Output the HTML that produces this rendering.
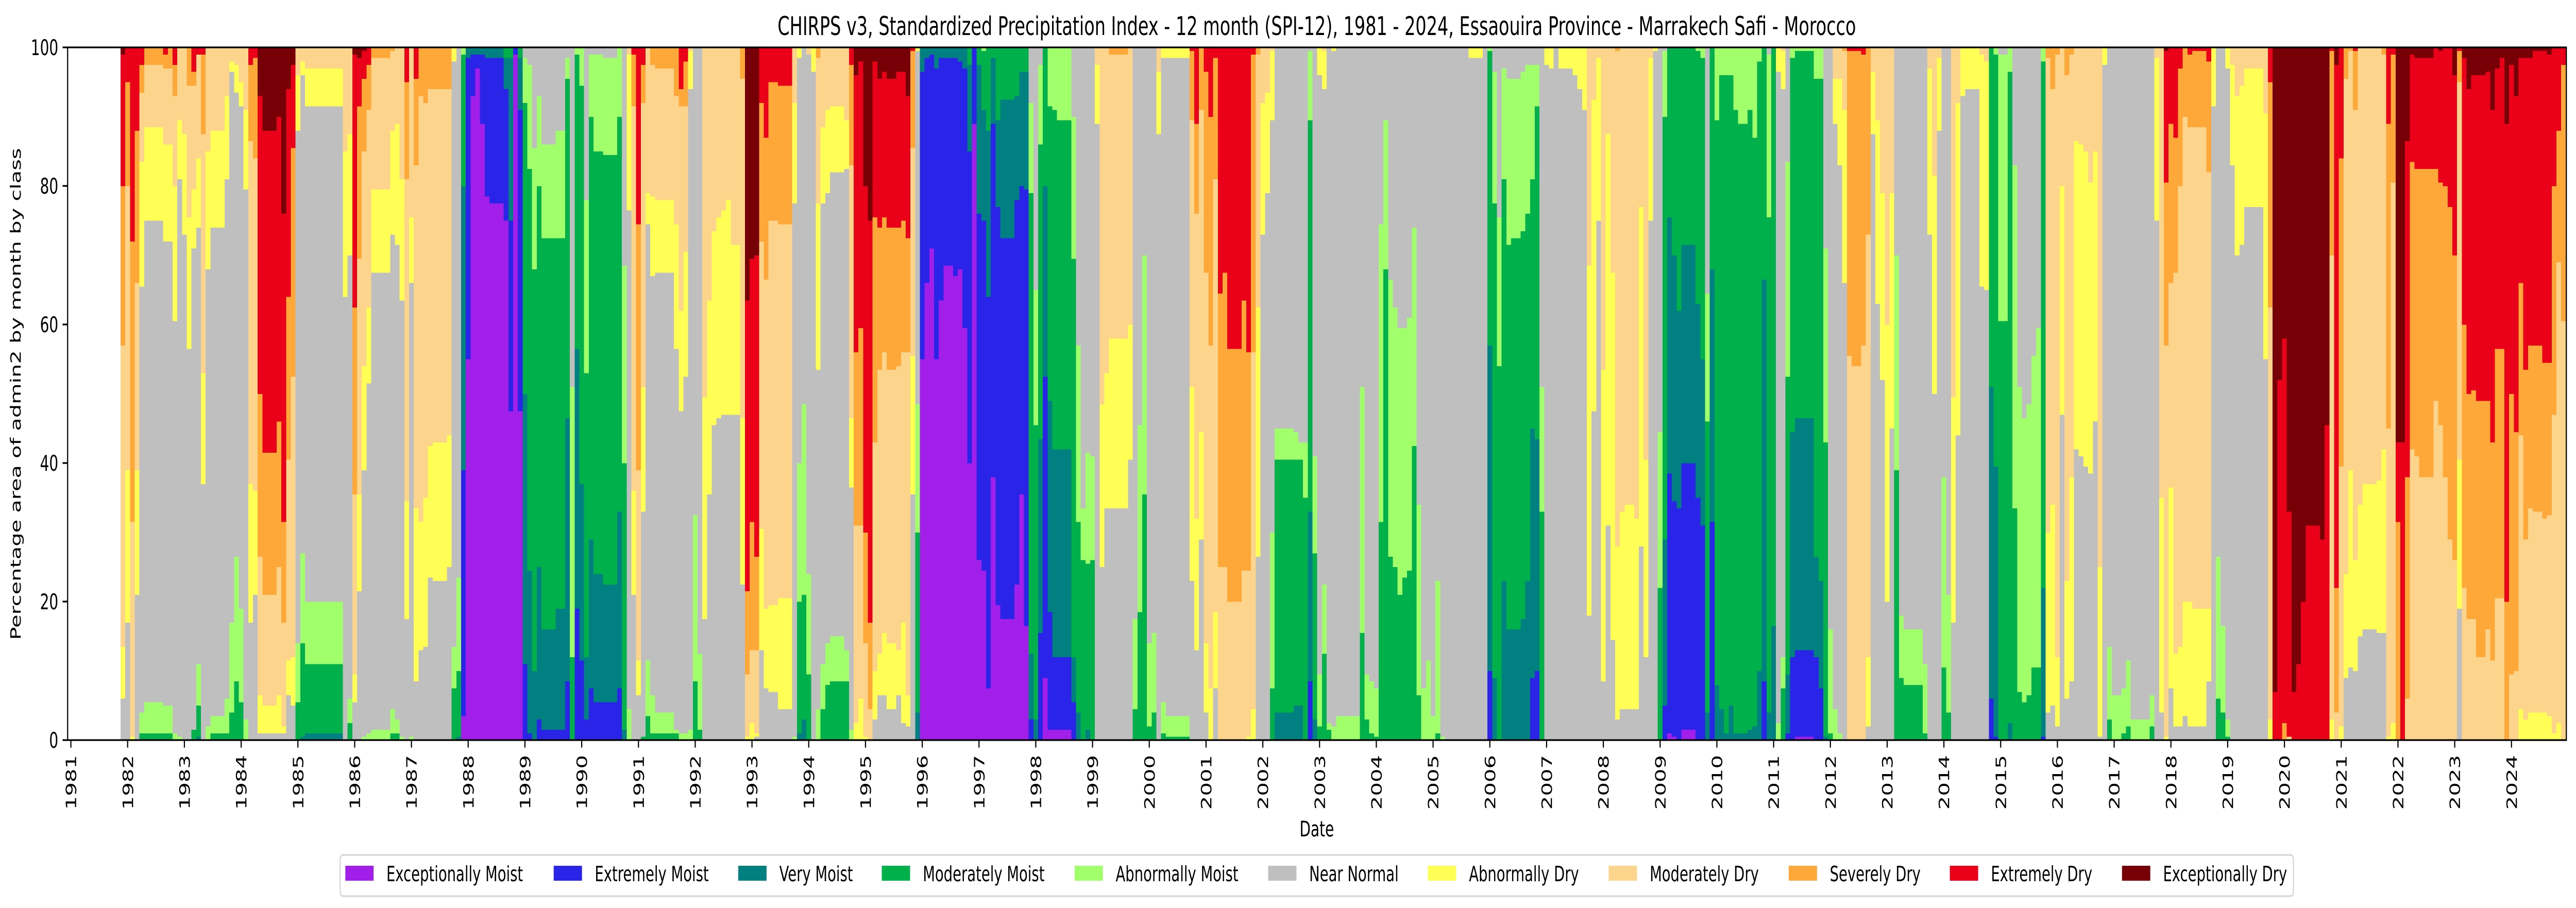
<!DOCTYPE html>
<html><head><meta charset="utf-8"><title>CHIRPS SPI-12 Essaouira</title>
<style>html,body{margin:0;padding:0;background:#fff;overflow:hidden;width:100%;height:100%}svg{display:block;width:100vw;height:100vh}text{font-family:"DejaVu Sans","Liberation Sans",sans-serif;fill:#000}</style>
</head><body>
<svg id="chart" xmlns="http://www.w3.org/2000/svg" viewBox="0 0 7467 1763" preserveAspectRatio="none">
<rect x="0" y="0" width="7467" height="1763" fill="#fff"/>
<text x="3817" y="68" font-size="50" text-anchor="middle" textLength="3126" lengthAdjust="spacingAndGlyphs">CHIRPS v3, Standardized Precipitation Index - 12 month (SPI-12), 1981 - 2024, Essaouira Province - Marrakech Safi - Morocco</text>
<g id="bars"></g>
<g id="axes"></g>
<text x="3817" y="1624" font-size="41.7" text-anchor="middle">Date</text>
<text transform="translate(60,765) rotate(-90)" font-size="41.7" text-anchor="middle" textLength="955" lengthAdjust="spacingAndGlyphs">Percentage area of admin2 by month by class</text>
<g id="legend"></g>
</svg>
<script>
const classNames = ["Exceptionally Moist","Extremely Moist","Very Moist","Moderately Moist","Abnormally Moist","Near Normal","Abnormally Dry","Moderately Dry","Severely Dry","Extremely Dry","Exceptionally Dry"];
const classColors = ["#a21fe9","#2a24e8","#008080","#00b04a","#a2ff6c","#bfbfbf","#ffff55","#fdd48c","#ffa83a","#eb0019","#760006"];
const yTicks = [0,20,40,60,80,100];
const xTickYears = [1981,1982,1983,1984,1985,1986,1987,1988,1989,1990,1991,1992,1993,1994,1995,1996,1997,1998,1999,2000,2001,2002,2003,2004,2005,2006,2007,2008,2009,2010,2011,2012,2013,2014,2015,2016,2017,2018,2019,2020,2021,2022,2023,2024];
const seriesEnd = "2025-01";
const periodStart = [
"1981-12","1982-01","1982-02","1982-03","1982-04","1982-05","1982-09","1982-10","1982-11","1982-12",
"1983-01","1983-02","1983-03","1983-04","1983-05","1983-06","1983-07","1983-10","1983-11","1983-12",
"1984-01","1984-02","1984-03","1984-04","1984-05","1984-06","1984-09","1984-10","1984-11","1984-12",
"1985-01","1985-02","1985-03","1985-11","1985-12",
"1986-01","1986-02","1986-03","1986-04","1986-05","1986-09","1986-10","1986-11","1986-12",
"1987-01","1987-02","1987-03","1987-04","1987-05","1987-06","1987-09","1987-10","1987-11","1987-12",
"1988-01","1988-02","1988-03","1988-04","1988-05","1988-06","1988-09","1988-10","1988-11","1988-12",
"1989-01","1989-02","1989-03","1989-04","1989-05","1989-08","1989-10","1989-11","1989-12",
"1990-01","1990-02","1990-03","1990-04","1990-06","1990-09","1990-10","1990-11","1990-12",
"1991-01","1991-02","1991-03","1991-04","1991-05","1991-09","1991-10","1991-11","1991-12",
"1992-01","1992-02","1992-03","1992-04","1992-05","1992-06","1992-07","1992-08","1992-09","1992-11","1992-12",
"1993-01","1993-02","1993-03","1993-04","1993-05","1993-07","1993-10","1993-11","1993-12",
"1994-01","1994-02","1994-03","1994-04","1994-05","1994-06","1994-09","1994-10","1994-11","1994-12",
"1995-01","1995-02","1995-03","1995-04","1995-05","1995-06","1995-08","1995-09","1995-10","1995-11","1995-12",
"1996-01","1996-02","1996-03","1996-04","1996-05","1996-06","1996-08","1996-09","1996-10","1996-11","1996-12",
"1997-01","1997-02","1997-03","1997-04","1997-05","1997-06","1997-09","1997-10","1997-11","1997-12",
"1998-01","1998-02","1998-03","1998-04","1998-05","1998-06","1998-09","1998-10","1998-11","1998-12",
"1999-01","1999-02","1999-03","1999-04","1999-05","1999-09","1999-10","1999-11","1999-12",
"2000-01","2000-02","2000-03","2000-04","2000-05","2000-10","2000-11","2000-12",
"2001-01","2001-02","2001-03","2001-04","2001-05","2001-06","2001-09","2001-10","2001-11","2001-12",
"2002-01","2002-02","2002-03","2002-04","2002-08","2002-09","2002-10","2002-11","2002-12",
"2003-01","2003-02","2003-03","2003-04","2003-05","2003-10","2003-11","2003-12",
"2004-01","2004-02","2004-03","2004-04","2004-05","2004-06","2004-07","2004-08","2004-09","2004-10","2004-11","2004-12",
"2005-01","2005-02","2005-03","2005-04","2005-09","2005-12",
"2006-01","2006-02","2006-03","2006-04","2006-05","2006-06","2006-08","2006-09","2006-10","2006-11","2006-12",
"2007-01","2007-02","2007-03","2007-04","2007-07","2007-08","2007-09","2007-10","2007-11","2007-12",
"2008-01","2008-02","2008-03","2008-04","2008-05","2008-06","2008-08","2008-09","2008-10","2008-11","2008-12",
"2009-01","2009-02","2009-03","2009-04","2009-05","2009-06","2009-09","2009-10","2009-11","2009-12",
"2010-01","2010-02","2010-03","2010-04","2010-05","2010-06","2010-08","2010-09","2010-10","2010-11","2010-12",
"2011-01","2011-02","2011-03","2011-04","2011-05","2011-06","2011-10","2011-11","2011-12",
"2012-01","2012-02","2012-03","2012-04","2012-05","2012-06","2012-08","2012-09","2012-10","2012-11","2012-12",
"2013-01","2013-02","2013-03","2013-04","2013-05","2013-09","2013-10","2013-11","2013-12",
"2014-01","2014-02","2014-03","2014-04","2014-05","2014-06","2014-09","2014-10","2014-11","2014-12",
"2015-01","2015-03","2015-04","2015-05","2015-06","2015-07","2015-08","2015-09","2015-10","2015-11","2015-12",
"2016-01","2016-02","2016-03","2016-04","2016-05","2016-06","2016-07","2016-08","2016-09","2016-10","2016-11","2016-12",
"2017-01","2017-03","2017-04","2017-05","2017-09","2017-10","2017-11","2017-12",
"2018-01","2018-02","2018-03","2018-04","2018-05","2018-06","2018-09","2018-10","2018-11","2018-12",
"2019-01","2019-02","2019-03","2019-04","2019-05","2019-09","2019-10","2019-11","2019-12",
"2020-01","2020-02","2020-03","2020-04","2020-05","2020-06","2020-09","2020-10","2020-11","2020-12",
"2021-01","2021-02","2021-03","2021-04","2021-05","2021-06","2021-09","2021-10","2021-11","2021-12",
"2022-01","2022-02","2022-03","2022-04","2022-05","2022-06","2022-09","2022-10","2022-11","2022-12",
"2023-01","2023-02","2023-03","2023-04","2023-05","2023-06","2023-08","2023-09","2023-10","2023-11","2023-12",
"2024-01","2024-02","2024-03","2024-04","2024-05","2024-06","2024-08","2024-09","2024-10","2024-11","2024-12"
];
// shares per period: [ExcMoist, ExtMoist, VeryMoist, ModMoist, AbnMoist, Normal, AbnDry, ModDry, SevDry, ExtDry, ExcDry]
const shares = [
[0,0,0,0,0,6,7.5,43.5,23,19,1],[0,0,0,0,0,17,22,41,15,5],[0,0,0,0,0,0,.5,31,40.5,28],[0,0,0,0,0,21,18,27,22,12],[0,0,0,1,3,61.5,18,10,4,2.5],[0,0,0,1,4.5,69.5,13.5,9,2.5],[0,0,0,1,4,67,14,11,2,1],[0,0,0,1,4,67,14,11,3],[0,0,0,0,1,59.5,19.5,13,4.5,2.5],[0,0,0,0,.5,80.5,8.5,10.5],
[0,0,0,0,0,73,14.5,12.5],[0,0,0,0,0,56.5,19,19,5.5],[0,0,0,1.5,0,69.5,8.5,15,2,3.5],[0,0,.5,4.5,6,63,10,15,0,1],[0,0,0,0,0,37,16,34.5,11.5,1],[0,0,0,0,2,66,17,15],[0,0,0,1,2.5,70.5,14,12],[0,0,0,1,5,75,12,7],[0,0,0,4,13,79.5,1.5,2],[0,0,0,8.5,18,67,4,2.5],
[0,0,0,5.5,13.5,72.5,3.5,5],[0,0,0,0,3,76.5,11.5,9],[0,0,0,0,0,17,20,49.5,11,2.5],[0,0,0,0,0,21,15,48,14.5,1.5],[0,0,0,0,0,1,5.5,20,23.5,43,7],[0,0,0,0,0,1,4,16,20.5,46.5,12],[0,0,0,0,0,1,5.5,18.5,21,44,10],[0,0,0,0,0,1,1,15,14.5,44.5,24],[0,0,0,0,0,6.5,5,29,23.5,30,6],[0,0,0,0,0,5,7,40.5,33,12,2.5],
[0,0,0,5.5,8.5,74,8,4],[0,0,.5,13.5,13,69,2,2],[0,0,1,10,9,71.5,5.5,3],[0,0,0,0,0,64,21,15],[0,0,0,2.5,3.5,64,17.5,12.5],
[0,0,0,0,0,5.5,4,26,27,36.5,1],[0,0,0,0,0,21.5,14,34,22,7,1.5],[0,0,0,0,.5,38.5,15,31,10.5,4,.5],[0,0,0,0,1,50.5,11,28.5,6.5,2.5],[0,0,0,0,1.5,66,12,19,1.5],[0,0,0,1,3.5,68.5,15,11.5,.5],[0,0,0,1,2,68.5,17.5,11],[0,0,0,0,.5,63,17.5,19],[0,0,0,0,0,17.5,17,46.5,14,5],
[0,0,0,0,.5,65.5,9.5,24.5],[0,0,0,0,0,8.5,25,49.5,12.5,4.5],[0,0,0,0,0,13,18.5,61.5,7],[0,0,0,0,0,13.5,21.5,57,8],[0,0,0,0,0,23.5,19,51.5,6],[0,0,0,0,0,23,20,51,6],[0,0,0,0,0,25,19,50,6],[0,0,0,7.5,6,84.5,2],[0,0,.5,9.5,13.5,76.5],[3.5,35.5,41,19,1],
[55,43.5,1.5],[93,6,1],[97,2,1],[89,10,1],[78.5,20,1.5],[77.5,21,1.5],[75,19,4.5,1.5],[47.5,27.5,23.5,1.5],[99,1],[47.5,43.5,7.5,1.5],
[0,11,39,42,6.5,1.5],[0,1,23.5,58,15,2.5],[0,0,10,58,17.5,14.5],[0,3,22,55,13,7],[0,1.5,14.5,56.5,13.5,14],[0,1.5,17.5,53.5,15.5,12],[0,8.5,38,49,3,1.5],[0,0,0,12,39,49],[0,19,37.5,42.5,1],
[0,11.5,25.5,57.5,5.5],[0,3,9,41,25,22],[0,7.5,21.5,61,9,1],[0,5.5,18.5,61,14,1],[0,5.5,17,62,14,1.5],[0,7.5,25.5,57,10],[0,0,1.5,38.5,28.5,31.5],[0,0,0,0,4.5,72,22.5,1],[0,0,0,0,0,21,15,55.5,7.5,1],
[0,0,0,0,0,6.5,5,27.5,35.5,25.5],[0,0,0,.5,0,32.5,18,41,5.5,2.5],[0,0,0,3.5,8,63,4.5,21],[0,0,0,1,5.5,60.5,11.5,19,2.5],[0,0,0,1,3,63.5,10.5,19,3],[0,0,0,1,.5,55,18,18.5,7],[0,0,0,0,1,46.5,14.5,29.5,2.5,6],[0,0,0,0,1,51.5,18,21,6.5,2],[0,0,0,0,1.5,92.5,5.5,.5],
[0,0,0,8.5,24,67.5],[0,0,0,1.5,11,87.5],[0,0,0,0,0,17.5,32,50.5],[0,0,0,0,0,35.5,28,36.5],[0,0,0,0,0,45.5,28,26.5],[0,0,0,0,0,46.5,29,24.5],[0,0,0,0,0,47,29.5,23.5],[0,0,0,0,0,47,31,22],[0,0,0,0,0,47,24.5,28.5],[0,0,0,0,0,22.5,24,49,4.5],[0,0,0,0,0,0,.5,9,12,42,36.5],
[0,0,0,0,0,0,2.5,10.5,18.5,38,30.5],[0,0,0,0,0,.5,.5,12,13.5,43.5,30],[0,0,0,0,0,13,17.5,41.5,20,8],[0,0,0,0,0,7.5,11.5,47.5,20.5,13],[0,0,0,0,0,7,12.5,55.5,20,5],[0,0,0,0,0,4.5,16,54,20,5.5],[0,0,0,0,.5,77,14.5,8],[0,0,1,19,20,58.5,1.5],[0,0,3,18,27.5,51.5],
[0,0,0,9.5,14.5,75,0,1],[0,0,0,0,0,96.5,3.5],[0,0,0,0,4.5,49,24,21,1.5],[0,0,0,4.5,6.5,66.5,11,11.5],[0,0,0,8,6,65,12,9],[0,0,0,8.5,6.5,67,9.5,8.5],[0,0,0,8.5,4.5,69.5,7,10.5],[0,0,0,0,1.5,35,10,36.5,14.5,2.5],[0,0,0,0,0,0,2.5,28.5,25,40,4],[0,0,0,0,0,0,6,25,28.5,38.5,2],
[0,0,0,0,0,0,.5,13.5,16,50,20],[0,0,0,0,0,0,0,4.5,12.5,58,25],[0,0,0,0,0,3,7,33,32.5,22.5,2],[0,0,0,0,0,6.5,6,41,20.5,21.5,4.5],[0,0,0,0,0,6.5,9,40.5,19.5,21,3.5],[0,0,0,0,0,4.5,9.5,39.5,20.5,21.5,4.5],[0,0,0,0,0,6.5,6.5,41,20,22.5,3.5],[0,0,0,0,0,2.5,14.5,39,19,21.5,3.5],[0,0,0,0,0,2,4.5,49.5,16.5,20.5,7],[0,0,0,0,0,35.5,20,30,14,.5],[0,0,4,26,18.5,51,.5],
[55,41.5,3.5],[66,32.5,1.5],[71,28,1],[55,42,3],[63.5,35,1.5],[68.5,30,1.5],[67,31.5,1.5],[68,30,2],[59.5,37.5,3],[40,45,12.5,2.5],[89,11],
[26,50,21.5,2.5],[24.5,50.5,16,8.5,.5],[7.5,56.5,24,12],[38,51,9.5,1.5],[19.5,57.5,12.5,10.5],[17.5,55,20,7.5],[22.5,55.5,15,7],[35.5,44.5,16.5,3.5],[16.5,63,17,3.5],[0,3,9.5,66.5,13,8],
[0,0,3,42.5,19.5,35],[0,15.5,28,42.5,11.5,2.5],[9,43.5,27.5,20],[1.5,17,30.5,42.5,8.5],[1.5,10.5,30,49,9],[1.5,10.5,30,47.5,10.5],[0,5.5,6.5,57.5,20.5,10],[0,0,4,27.5,25.5,43],[0,0,0,26,7.5,66.5],[0,0,1.5,24,16,58.5],
[0,0,0,26,15,59],[0,0,0,0,0,89,8.5,2.5],[0,0,0,0,0,25,23.5,51.5],[0,0,0,0,0,33.5,19.5,47],[0,0,0,0,0,33.5,24.5,41,1],[0,0,0,0,0,40.5,19.5,40],[0,0,0,4.5,13,82.5],[0,0,0,18.5,27,54.5],[0,0,0,35.5,34.5,30],
[0,0,0,2,12,86],[0,0,0,4,11.5,84.5],[0,0,0,0,0,87.5,9,3.5],[0,0,0,1,4.5,93,1.5],[0,0,0,.5,3,95,1.5],[0,0,0,0,0,23,28,38.5,10,.5],[0,0,0,0,0,13,19,44,13,11],[0,0,0,0,0,29,15.5,46.5,9],
[0,0,0,0,0,4,10,53.5,29,3.5],[0,0,0,0,0,0,7.5,49.5,33,10],[0,0,0,0,0,7.5,11,62.5,17.5,1.5],[0,0,0,0,0,0,0,25,39.5,35.5],[0,0,0,0,0,0,0,25,42.5,32.5],[0,0,0,0,0,0,0,20,36.5,43.5],[0,0,0,0,0,0,0,24.5,39,36.5],[0,0,0,0,0,0,.5,24,31.5,44],[0,0,0,0,0,0,4.5,51.5,43,1],[0,0,0,0,0,26.5,36,36.5,1],
[0,0,0,0,0,73,19,8],[0,0,0,0,0,79,14.5,6.5],[0,0,0,7.5,22.5,59.5,10,.5],[0,0,4,36.5,4.5,55],[0,0,5,35.5,4,55.5],[0,0,5,35.5,2.5,57],[0,0,0,35,8,57],[0,8.5,24.5,56.5,10,.5],[0,0,3,24,14,59],
[0,0,0,2,7.5,86.5,4],[0,0,0,12.5,10,71.5,5.5,.5],[0,0,0,1.5,1,97.5],[0,0,0,0,2,97.5,.5],[0,0,0,0,3.5,96.5],[0,0,0,15.5,35.5,49],[0,0,0,3,6.5,90.5],[0,0,0,1,7.5,91.5],
[0,0,0,.5,7,92.5],[0,0,0,31.5,43,25.5],[0,0,0,68,21.5,10.5],[0,0,0,26.5,40,33.5],[0,0,0,25,37.5,37.5],[0,0,0,21,38.5,40.5],[0,0,0,23.5,36,40.5],[0,0,0,24.5,36.5,39],[0,0,0,42.5,31.5,26],[0,0,0,6.5,27.5,66],[0,0,0,0,7.5,92.5],[0,0,0,0,11.5,88.5],
[0,0,0,0,3.5,96.5],[0,0,0,1,22,77],[0,0,0,0,.5,99.5],[0,0,0,0,0,100],[0,0,0,0,0,98.5,1.5],[0,0,0,0,0,100],
[0,10,47,42.5,.5],[0,0,9,68.5,19,3.5],[0,0,0,54,21.5,24.5],[0,0,23,58,16,3],[0,0,16,55.5,24,4.5],[0,0,16,56.5,23,4.5],[0,0,17.5,56,23,3.5],[0,0,23,53,21.5,2.5],[0,9,36,36,16.5,2.5],[0,10,33.5,48,6,2.5],[0,0,0,33,18,49],
[0,0,0,0,0,97.5,2.5],[0,0,0,0,0,97,3],[0,0,0,0,0,100],[0,0,0,0,0,97,3],[0,0,0,0,0,96,4],[0,0,0,0,0,94,6],[0,0,0,0,0,91,9],[0,0,0,0,0,18,50.5,31.5],[0,0,0,0,0,47.5,45,7.5],[0,0,0,0,0,75,23.5,1.5],
[0,0,0,0,0,8.5,45,46.5],[0,0,0,0,0,31,56.5,12.5],[0,0,0,0,0,14.5,53,32.5],[0,0,0,0,0,3,25,71.5,.5],[0,0,0,0,0,4.5,28.5,67],[0,0,0,0,0,4.5,29.5,66],[0,0,0,0,0,4.5,27.5,68],[0,0,0,0,0,28,49,23],[0,0,0,0,0,12,28.5,59.5],[0,0,0,0,0,75,23.5,1.5],[0,0,0,0,0,99.5,.5],
[0,0,0,22,22.5,55.5],[0,5,24,61,9.5,.5],[1,37.5,37,24.5],[.5,34,35.5,30],[0,33.5,28.5,38],[1.5,38.5,31.5,28.5],[0,35,28,36.5,.5],[0,31,24,43.5,1.5],[0,0,4,42,18.5,35.5],[0,31.5,36.5,32],
[0,0,8,81.5,10.5],[0,0,4.5,91.5,4],[0,0,1,95,4],[0,0,5,91,4],[0,0,1,90,9],[0,0,1,88,11],[0,0,1.5,89.5,9],[0,0,2,85,13],[0,0,10,88,2],[0,8.5,58,33.5],[0,0,4,71.5,23.5,1],
[0,0,16.5,83.5],[0,0,0,0,2.5,94,3.5],[0,0,0,7.5,4.5,82,5.5,.5],[0,1,8.5,43,31,16.5],[0,12,32.5,54,1.5],[.5,12.5,33.5,53,.5],[0,12,14.5,69,4.5],[0,7.5,15.5,72.5,4.5],[0,0,.5,42.5,28,29],
[0,0,0,1,15,84],[0,0,0,0,4.5,84.5,6.5,4.5],[0,0,0,0,1,82,12.5,4.5],[0,0,0,0,0,66,25,8.5,.5],[0,0,0,0,0,0,0,55.5,44,.5],[0,0,0,0,0,0,0,54,45.5,.5],[0,0,0,0,0,0,0,57,42,1],[0,0,0,0,0,2,10,61,27],[0,0,0,0,0,87.5,9,3.5],[0,0,0,0,0,63,26.5,10.5],[0,0,0,0,0,52,27,21],
[0,0,0,0,0,20,40,40],[0,0,0,0,0,45,34,21],[0,0,0,39,31,30],[0,0,0,9,9,82],[0,0,0,8,8,84],[0,0,0,1,10,89],[0,0,0,0,0,73,24,3],[0,0,0,0,0,50,31.5,18.5],[0,0,0,0,0,88,10.5,1.5],
[0,0,0,10.5,27.5,62],[0,0,0,4,17,79],[0,0,0,0,0,17,32.5,50.5],[0,0,0,0,0,44,48,8],[0,0,0,0,0,93,7],[0,0,0,0,0,94,6],[0,0,0,0,0,65.5,33.5,1],[0,0,0,0,0,65,33,2],[0,6,45,49],[0,.5,39,59.5,1],
[0,0,0,60.5,38.5,1],[0,0,2.5,94,3.5],[0,0,0,33.5,49.5,17],[0,0,0,7,44,49],[0,0,0,5.5,41,53.5],[0,0,0,6.5,42,51.5],[0,0,0,10.5,45,44.5],[0,0,0,10.5,49,40.5],[0,.5,21.5,76,2],[0,0,0,0,0,4,26,68.5,1.5],[0,0,0,0,0,5,29,60,6],
[0,0,0,0,0,2,10,87,1],[0,0,0,0,0,47,33,20],[0,0,0,0,0,6,17,73,4],[0,0,0,0,0,8.5,29.5,61,1],[0,0,0,0,0,42,44.5,13.5],[0,0,0,0,0,41,45,14],[0,0,0,0,0,39.5,45.5,15],[0,0,0,0,0,38.5,42,19.5],[0,0,0,0,0,46,39,15],[0,0,0,0,0,.5,24.5,75],[0,0,0,0,0,97.5,2.5],[0,0,0,3,10.5,86.5],
[0,0,0,0,6.5,93.5],[0,0,0,1,6.5,92.5],[0,0,0,2,9.5,88.5],[0,0,0,0,3,97],[0,0,0,2,4.5,93.5],[0,0,0,0,0,75,23.5,1.5],[0,0,0,0,0,4,31,65],[0,0,0,0,0,0,.5,56.5,23.5,19,.5],
[0,0,0,0,0,7.5,29,29.5,23,11],[0,0,0,0,0,2,10.5,55,19.5,13],[0,0,0,0,0,2,11.5,66.5,17,3],[0,0,0,0,0,3.5,16.5,70,10],[0,0,0,0,0,2,18,68.5,10.5,1],[0,0,0,0,0,2,17,69.5,11,.5],[0,0,0,0,0,8.5,10.5,63,16,2],[0,0,0,0,0,91.5,8.5],[0,0,0,6,20.5,73.5],[0,0,0,4,12.5,83.5],
[0,0,0,.5,2.5,94,3],[0,0,0,0,0,83,14.5,2.5],[0,0,0,0,0,70,23,7],[0,0,0,0,0,71.5,23,5.5],[0,0,0,0,0,77,20,3],[0,0,0,0,0,55,35.5,9.5],[0,0,0,0,0,0,3,59.5,32.5,5],[0,0,0,0,0,0,0,0,0,7,93],[0,0,0,0,0,0,0,0,0,52,48],
[0,0,0,0,0,0,0,0,2.5,55.5,42],[0,0,0,0,0,0,0,.5,0,32.5,67],[0,0,0,0,0,0,0,0,0,7,93],[0,0,0,0,0,0,0,0,0,11,89],[0,0,0,0,0,0,0,0,0,20,80],[0,0,0,0,0,0,0,0,0,31,69],[0,0,0,0,0,0,0,0,0,29,71],[0,0,0,0,0,0,0,0,0,45.5,54.5],[0,0,0,0,0,0,3,67,29.5,.5],[0,0,0,0,0,0,0,4,18,75.5,2.5],
[0,0,0,0,0,0,2,37.5,44.5,16],[0,0,0,0,0,9,15,71.5,4.5],[0,0,0,0,0,10.5,28.5,60.5,.5],[0,0,0,0,0,10,16,65,8.5,.5],[0,0,0,0,0,15,19,66],[0,0,0,0,0,16,21,63],[0,0,0,0,0,15.5,22,62.5],[0,0,0,0,0,15.5,26.5,57,1],[0,0,0,0,0,0,.5,44.5,44,11],[0,0,0,0,0,0,2.5,78,18.5,1],
[0,0,0,0,0,0,0,0,31.5,11.5,57],[0,0,0,0,0,0,0,0,0,43,57],[0,0,0,0,0,0,0,6,32,48.5,13.5],[0,0,0,0,0,0,0,42,41.5,15.5,1],[0,0,0,0,0,0,0,41,41.5,16,1.5],[0,0,0,0,0,0,0,38,44.5,16,1.5],[0,0,0,0,0,0,0,49,33.5,17.5],[0,0,0,0,0,0,0,45.5,35,19,.5],[0,0,0,0,0,0,0,38,42,20],[0,0,0,0,0,0,0,29,48,23],
[0,0,0,0,0,0,0,26,44,26,4],[0,0,0,0,0,19,21.5,54.5,4.5,.5],[0,0,0,0,0,0,0,22,38,38.5,1.5],[0,0,0,0,0,0,0,17.5,32.5,44,6],[0,0,0,0,0,0,0,17.5,33,45.5,4],[0,0,0,0,0,0,0,12,37,47,4],[0,0,0,0,0,0,0,16,33,47.5,3.5],[0,0,0,0,0,0,0,11.5,31.5,48,9],[0,0,0,0,0,0,0,20.5,36,40.5,3],[0,0,0,0,0,0,0,20.5,36,42,1.5],[0,0,0,0,0,0,0,0,20,69,11],
[0,0,0,0,0,0,0,9.5,40.5,47.5,2.5],[0,0,0,0,0,0,0,10,34.5,48.5,7],[0,0,0,0,0,0,4.5,39.5,22,32.5,1.5],[0,0,0,0,0,0,3,26,24.5,45,1.5],[0,0,0,0,0,0,4,29.5,23.5,41.5,1.5],[0,0,0,0,0,0,4,29,24,42.5,.5],[0,0,0,0,0,0,4,28,22.5,45,.5],[0,0,0,0,0,0,3.5,29,22,44.5,1],[0,0,0,0,0,0,1,46,33,20],[0,0,0,0,0,0,2.5,66.5,19,12],[0,0,0,0,0,0,0,60.5,37,2.5]
];

const NS = "http://www.w3.org/2000/svg";
const plot = {left:196, right:7439, top:92, bottom:1437};
const tMin = -0.69, tMax = 527.6;
function monthIndex(s){const p=s.split("-");return (parseInt(p[0])-1981)*12+(parseInt(p[1])-1);}
function xScale(t){return plot.left+(t-tMin)/(tMax-tMin)*(plot.right-plot.left);}
function yScale(v){return plot.bottom-(v/100)*(plot.bottom-plot.top);}
function mk(tag,attrs,parent){const e=document.createElementNS(NS,tag);for(const k in attrs)e.setAttribute(k,attrs[k]);parent.appendChild(e);return e;}

const gBars=document.getElementById("bars");
for(let p=0;p<periodStart.length;p++){
  const t0=monthIndex(periodStart[p])-0.5;
  const t1=(p+1<periodStart.length?monthIndex(periodStart[p+1]):monthIndex(seriesEnd))-0.5;
  const vals=shares[p]||[];
  let total=0;for(let c=0;c<11;c++)total+=(vals[c]||0);
  if(total<=0)continue;
  let cum=0;
  const x0=xScale(t0), x1=xScale(t1);
  for(let c=0;c<11;c++){
    const v=(vals[c]||0)/total*100;
    if(v<=0)continue;
    const yTop=yScale(cum+v), yBot=yScale(cum);
    const r=mk("rect",{x:x0.toFixed(2),y:yTop.toFixed(2),width:(x1-x0+0.4).toFixed(2),height:(yBot-yTop+0.4).toFixed(2),fill:classColors[c],"shape-rendering":"crispEdges"},gBars);
    
    
    cum+=v;
  }
}

const gAx=document.getElementById("axes");
yTicks.forEach(v=>{
  const y=yScale(v);
  const l=mk("line",{x1:plot.left-14.6,x2:plot.left,y1:y,y2:y,stroke:"#000","stroke-width":3.3},gAx);
  
  
  const t=mk("text",{x:plot.left-27,y:y+15,"font-size":41.7,"text-anchor":"end"},gAx);
  t.textContent=String(v);
  
  
});
xTickYears.forEach(yr=>{
  const x=xScale((yr-1981)*12);
  const l=mk("line",{x1:x,x2:x,y1:plot.bottom,y2:plot.bottom+14.6,stroke:"#000","stroke-width":3.3},gAx);
  
  
  const t=mk("text",{transform:"translate("+(x+15).toFixed(1)+",1466) rotate(-90)","font-size":41.7,"text-anchor":"end"},gAx);
  t.textContent=String(yr);
  
  
});
const frame=mk("rect",{x:plot.left,y:plot.top,width:plot.right-plot.left,height:plot.bottom-plot.top,fill:"none",stroke:"#000","stroke-width":3.3},gAx);



const gLeg=document.getElementById("legend");
const legBox=mk("rect",{x:986,y:1660,width:5662,height:80,rx:8,ry:8,fill:"#fff",stroke:"#d6d6d6","stroke-width":3.3},gLeg);


const legendX=[1001,1605,2140,2556,3115,3676,4139,4663,5185,5652,6151];
classNames.forEach((n,i)=>{
  const g=mk("g",{},gLeg);
  
  
  const r=mk("rect",{x:legendX[i],y:1681,width:82,height:29,fill:classColors[i]},g);
  
  
  const t=mk("text",{x:legendX[i]+119,y:1711,"font-size":41},g);
  t.textContent=n;
  
  
});
</script>
</body></html>
